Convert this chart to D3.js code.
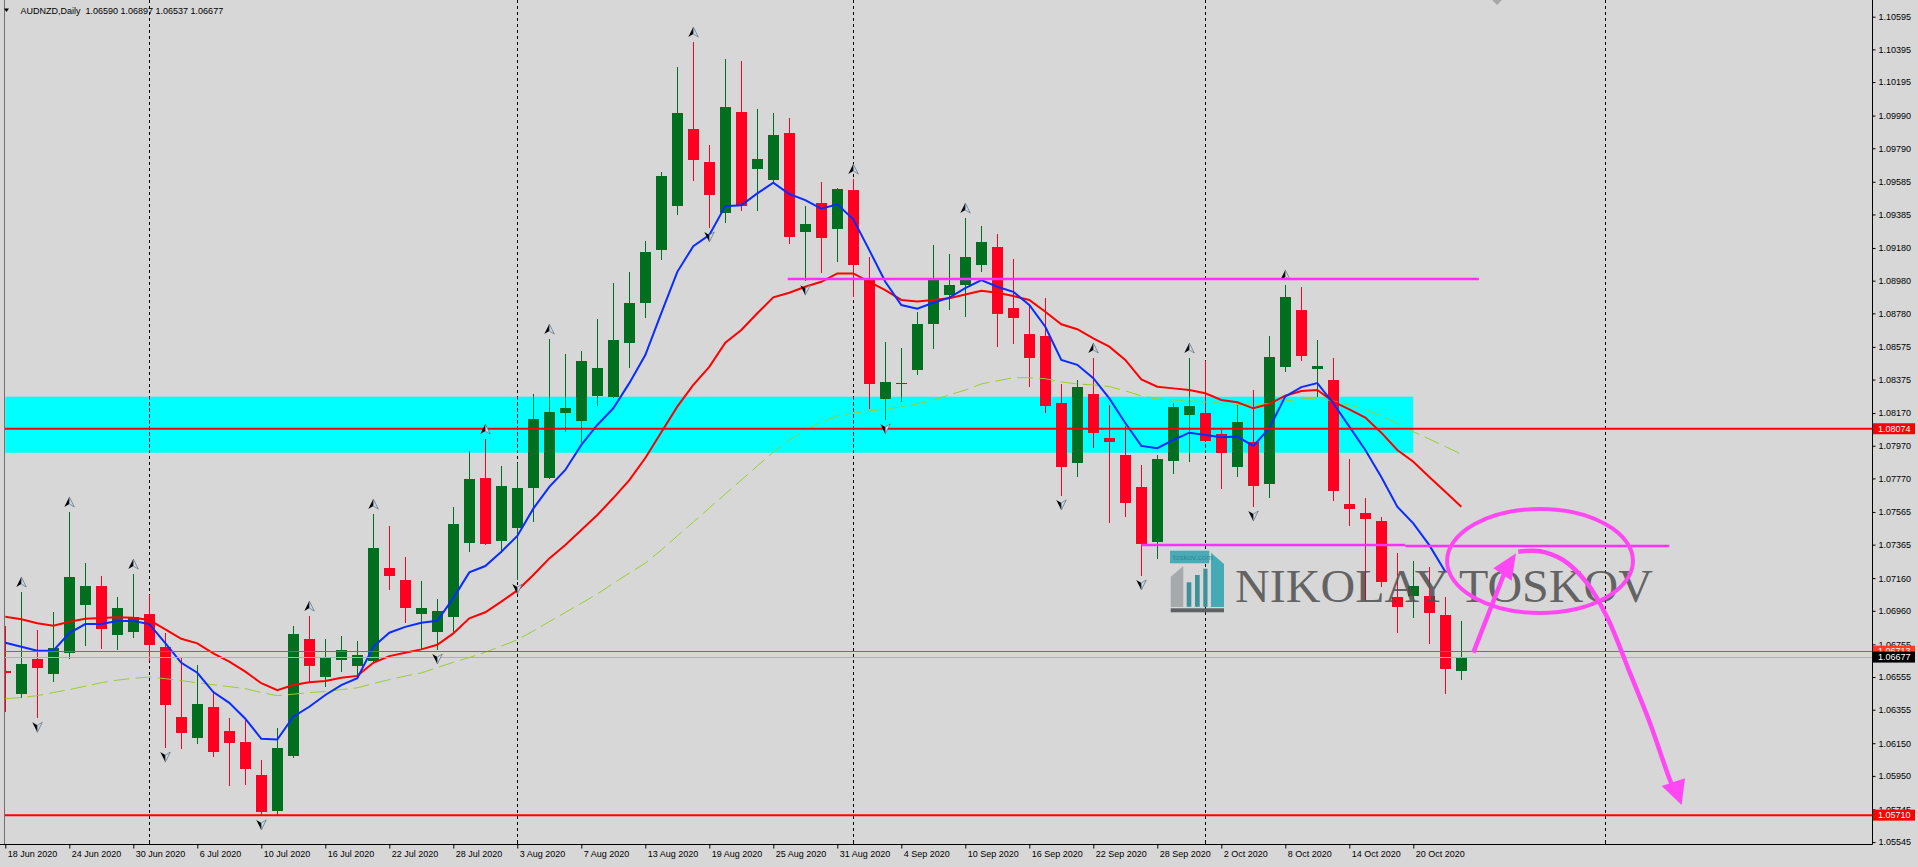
<!DOCTYPE html>
<html><head><meta charset="utf-8">
<script src="https://cdn.jsdelivr.net/npm/d3@7"></script>
<style>
html,body{margin:0;padding:0;background:#d7d7d7;overflow:hidden}
svg{display:block}
.sans{font-family:"Liberation Sans",Arial,sans-serif}
</style></head><body>
<svg id="c" width="1918" height="867"></svg>
<script>
// ---------------- DATA ----------------
const symbolTitle = "AUDNZD,Daily";
const dates = ["2020-06-18","2020-06-19","2020-06-22","2020-06-23","2020-06-24","2020-06-25","2020-06-26","2020-06-29","2020-06-30","2020-07-01","2020-07-02","2020-07-03","2020-07-06","2020-07-07","2020-07-08","2020-07-09","2020-07-10","2020-07-13","2020-07-14","2020-07-15","2020-07-16","2020-07-17","2020-07-20","2020-07-21","2020-07-22","2020-07-23","2020-07-24","2020-07-27","2020-07-28","2020-07-29","2020-07-30","2020-07-31","2020-08-03","2020-08-04","2020-08-05","2020-08-06","2020-08-07","2020-08-10","2020-08-11","2020-08-12","2020-08-13","2020-08-14","2020-08-17","2020-08-18","2020-08-19","2020-08-20","2020-08-21","2020-08-24","2020-08-25","2020-08-26","2020-08-27","2020-08-28","2020-08-31","2020-09-01","2020-09-02","2020-09-03","2020-09-04","2020-09-07","2020-09-08","2020-09-09","2020-09-10","2020-09-11","2020-09-14","2020-09-15","2020-09-16","2020-09-17","2020-09-18","2020-09-21","2020-09-22","2020-09-23","2020-09-24","2020-09-25","2020-09-28","2020-09-29","2020-09-30","2020-10-01","2020-10-02","2020-10-05","2020-10-06","2020-10-07","2020-10-08","2020-10-09","2020-10-12","2020-10-13","2020-10-14","2020-10-15","2020-10-16","2020-10-19","2020-10-20","2020-10-21","2020-10-22","2020-10-23"];
const opens = [1.06592,1.06453,1.06665,1.06575,1.06704,1.06995,1.07112,1.06812,1.06830,1.06940,1.06738,1.06310,1.06181,1.06371,1.06224,1.06157,1.05955,1.05735,1.06071,1.06787,1.06555,1.06659,1.06622,1.06653,1.07222,1.07148,1.06940,1.06830,1.06922,1.07375,1.07773,1.07387,1.07467,1.07712,1.07773,1.08170,1.08122,1.08275,1.08269,1.08599,1.08844,1.09167,1.09436,1.09908,1.09706,1.09393,1.10012,1.09663,1.09596,1.09883,1.09277,1.09455,1.09296,1.09535,1.08984,1.08256,1.08348,1.08434,1.08715,1.08893,1.08954,1.09075,1.09185,1.08813,1.08654,1.08642,1.08232,1.07865,1.08287,1.08017,1.07914,1.07718,1.07381,1.07877,1.08158,1.08170,1.08042,1.07840,1.07993,1.07736,1.08452,1.08801,1.08440,1.08373,1.07614,1.07559,1.07510,1.07044,1.07050,1.07050,1.06934,1.06590];
const highs = [1.06867,1.07075,1.06842,1.06953,1.07565,1.07252,1.07173,1.07044,1.07185,1.07057,1.06824,1.06671,1.06628,1.06463,1.06304,1.06292,1.06047,1.06243,1.06867,1.06928,1.06787,1.06806,1.06775,1.07552,1.07479,1.07289,1.07142,1.07032,1.07595,1.07938,1.08011,1.07846,1.07865,1.08287,1.08623,1.08532,1.08550,1.08746,1.08965,1.09033,1.09222,1.09645,1.10287,1.10440,1.09810,1.10336,1.10324,1.10030,1.10005,1.09975,1.09436,1.09583,1.09547,1.09602,1.09124,1.08605,1.08568,1.08789,1.09198,1.09143,1.09363,1.09314,1.09265,1.09112,1.08825,1.08874,1.08348,1.08373,1.08507,1.08219,1.08091,1.07852,1.07914,1.08232,1.08507,1.08489,1.08067,1.08219,1.08311,1.08642,1.08954,1.08941,1.08617,1.08507,1.07889,1.07650,1.07534,1.07314,1.07265,1.07228,1.07044,1.06897];
const lows = [1.06341,1.06425,1.06302,1.06526,1.06667,1.06746,1.06726,1.06720,1.06795,1.06653,1.06120,1.06114,1.06145,1.06065,1.05888,1.05894,1.05705,1.05712,1.06059,1.06524,1.06493,1.06586,1.06555,1.06646,1.07087,1.06885,1.06720,1.06720,1.06830,1.07320,1.07363,1.07314,1.07148,1.07503,1.07765,1.08054,1.07981,1.08213,1.08262,1.08446,1.08752,1.09106,1.09381,1.09590,1.09302,1.09332,1.09406,1.09406,1.09585,1.09204,1.08977,1.09026,1.09094,1.08880,1.08195,1.08128,1.08238,1.08403,1.08562,1.08801,1.08758,1.09033,1.08574,1.08593,1.08330,1.08170,1.07663,1.07779,1.07956,1.07497,1.07534,1.07173,1.07277,1.07797,1.07871,1.07990,1.07705,1.07779,1.07595,1.07650,1.08421,1.08489,1.08269,1.07632,1.07479,1.07020,1.07106,1.06824,1.06916,1.06757,1.06451,1.06537];
const closes = [1.06579,1.06634,1.06612,1.06732,1.07167,1.07112,1.06849,1.06977,1.06922,1.06751,1.06383,1.06212,1.06390,1.06096,1.06151,1.05992,1.05730,1.06120,1.06818,1.06622,1.06671,1.06720,1.06690,1.07344,1.07173,1.06977,1.06977,1.06959,1.07491,1.07767,1.07369,1.07724,1.07712,1.08134,1.08177,1.08201,1.08489,1.08446,1.08617,1.08844,1.09155,1.09620,1.10005,1.09718,1.09504,1.10042,1.09436,1.09724,1.09871,1.09247,1.09326,1.09241,1.09541,1.09075,1.08348,1.08360,1.08354,1.08715,1.08984,1.08954,1.09124,1.09216,1.08776,1.08752,1.08507,1.08213,1.07840,1.08330,1.08048,1.07993,1.07620,1.07369,1.07889,1.08207,1.08213,1.07999,1.07926,1.08115,1.07724,1.08513,1.08880,1.08519,1.08458,1.07693,1.07583,1.07522,1.07137,1.06983,1.07112,1.06946,1.06604,1.06677];
// moving averages (blue fast, red medium, green dashed slow)
const fastMA = [1.06765,1.06740,1.06716,1.06716,1.06824,1.06879,1.06879,1.06898,1.06898,1.06879,1.06763,1.06642,1.06581,1.06463,1.06397,1.06300,1.06177,1.06173,1.06312,1.06373,1.06445,1.06506,1.06548,1.06740,1.06826,1.06862,1.06887,1.06899,1.07038,1.07195,1.07234,1.07322,1.07418,1.07585,1.07718,1.07822,1.07975,1.08097,1.08199,1.08353,1.08525,1.08781,1.09034,1.09191,1.09259,1.09436,1.09441,1.09514,1.09579,1.09510,1.09473,1.09420,1.09447,1.09355,1.09167,1.08973,1.08831,1.08808,1.08845,1.08876,1.08935,1.08984,1.08943,1.08912,1.08831,1.08698,1.08495,1.08465,1.08383,1.08260,1.08109,1.07969,1.07955,1.08005,1.08050,1.08036,1.08022,1.08026,1.07969,1.08077,1.08272,1.08329,1.08353,1.08230,1.08087,1.07944,1.07779,1.07597,1.07495,1.07362,1.07199];
const midMA = [1.06924,1.06908,1.06884,1.06869,1.06893,1.06912,1.06916,1.06921,1.06918,1.06904,1.06847,1.06789,1.06761,1.06700,1.06649,1.06588,1.06517,1.06475,1.06506,1.06523,1.06531,1.06551,1.06562,1.06642,1.06683,1.06703,1.06724,1.06752,1.06822,1.06914,1.06951,1.07016,1.07085,1.07179,1.07281,1.07363,1.07454,1.07546,1.07650,1.07760,1.07895,1.08052,1.08209,1.08342,1.08453,1.08601,1.08678,1.08781,1.08878,1.08906,1.08943,1.08973,1.09024,1.09024,1.08973,1.08922,1.08862,1.08852,1.08862,1.08872,1.08895,1.08918,1.08906,1.08886,1.08862,1.08790,1.08713,1.08683,1.08627,1.08576,1.08495,1.08376,1.08331,1.08321,1.08311,1.08291,1.08250,1.08236,1.08199,1.08225,1.08276,1.08305,1.08311,1.08240,1.08193,1.08142,1.08050,1.07944,1.07872,1.07779,1.07689,1.07597];
const slowMA = [1.06422,1.06429,1.06441,1.06460,1.06478,1.06499,1.06520,1.06536,1.06547,1.06555,1.06545,1.06533,1.06520,1.06508,1.06496,1.06484,1.06460,1.06441,1.06450,1.06460,1.06466,1.06478,1.06489,1.06515,1.06539,1.06561,1.06580,1.06613,1.06645,1.06674,1.06707,1.06744,1.06782,1.06837,1.06894,1.06950,1.07006,1.07063,1.07128,1.07191,1.07252,1.07332,1.07418,1.07503,1.07589,1.07675,1.07760,1.07846,1.07931,1.08005,1.08066,1.08115,1.08152,1.08170,1.08183,1.08195,1.08207,1.08226,1.08250,1.08281,1.08311,1.08348,1.08367,1.08386,1.08386,1.08380,1.08361,1.08348,1.08342,1.08332,1.08306,1.08275,1.08256,1.08250,1.08246,1.08238,1.08229,1.08223,1.08219,1.08229,1.08244,1.08256,1.08262,1.08244,1.08219,1.08192,1.08152,1.08106,1.08056,1.08011,1.07965,1.07919];
const fractalUp = [1,4,8,19,23,30,34,43,53,60,68,74,80];
const fractalDown = [2,10,16,27,32,44,50,55,66,71,78];
const yTicks = [1.10595,1.10395,1.10195,1.09990,1.09790,1.09585,1.09385,1.09180,1.08980,1.08780,1.08575,1.08375,1.08170,1.07970,1.07770,1.07565,1.07365,1.07160,1.06960,1.06755,1.06555,1.06355,1.06150,1.05950,1.05745,1.05545];
const redLevels = [1.08074, 1.05710];
const askPrice = 1.06713, bidPrice = 1.06677;
// cyan zone (price range, bar range)
const zoneTop = 1.08270, zoneBottom = 1.07927, zoneFrom = 0, zoneTo = 88;
// magenta trend lines: [fromBar, toBar, price]
const magentaLines = [[48.9, 92.1, 1.08990],[71.0, 87.5, 1.07362],[87.5, 104.0, 1.07356]];
// hand-drawn annotations in (bar, price) units
const circleCenter = [95.92, 1.07265], circleRadiusBars = 5.81, circleRadiusPrice = 0.00318;
const arrowUpLine = [[91.75, 1.06704],[93.75, 1.07205]];
const arrowUpHead = [[94.42, 1.07312],[93.0, 1.07220],[94.15, 1.07144]];
const arrowDownLine = [[94.56, 1.07322],[95.92, 1.07325],[97.36, 1.07271],[98.86, 1.07130],[100.11, 1.06922],[101.54, 1.06580],[102.79, 1.06274],[104.04, 1.05925],[104.5, 1.05820]];
const arrowDownHead = [[104.77, 1.05772],[103.52, 1.05888],[104.98, 1.05935]];

// ---------------- SCALES ----------------
const svg = d3.select("#c");
const axisX = 1872, axisY = 844, leftX = 4;
const x = d3.scaleLinear().domain([0, dates.length - 1]).range([5.3, 5.3 + 16 * (dates.length - 1)]);
const y = d3.scaleLinear().domain([1.05545, 1.10595]).range([842.1, 16.7]);
const parse = d3.timeParse("%Y-%m-%d");
const fmt = d3.timeFormat("%-d %b %Y");
const dts = dates.map(parse);
const SANS = "'Liberation Sans',Arial,sans-serif";

svg.append("rect").attr("width",1918).attr("height",867).attr("fill","#d7d7d7");
svg.append("defs").append("clipPath").attr("id","plot")
  .append("rect").attr("x",leftX).attr("y",0).attr("width",axisX-leftX).attr("height",axisY);
const plot = svg.append("g").attr("clip-path","url(#plot)");

// cyan zone
plot.append("rect").attr("x",x(zoneFrom)).attr("width",x(zoneTo)-x(zoneFrom))
  .attr("y",y(zoneTop)).attr("height",y(zoneBottom)-y(zoneTop)).attr("fill","#00ffff");

// period separators (month starts + next month in future, calendar extrapolated)
const sepIdx = [];
for (let i = 1; i < dts.length; i++) if (dts[i].getMonth() !== dts[i-1].getMonth()) sepIdx.push(i);
const lastD = dts[dts.length-1];
const nextM = d3.timeMonth.ceil(d3.timeDay.offset(lastD,1));
sepIdx.push(dts.length - 1 + d3.timeDay.count(lastD, nextM));
sepIdx.forEach(i => {
  const sx = Math.round(x(i)) + 0.5;
  plot.append("line").attr("x1",sx).attr("x2",sx).attr("y1",0).attr("y2",axisY)
    .attr("stroke","#000").attr("stroke-width",1).attr("stroke-dasharray","3,3");
  if (i >= zoneFrom && i <= zoneTo)
    plot.append("line").attr("x1",sx).attr("x2",sx).attr("y1",y(zoneTop)).attr("y2",y(zoneBottom))
      .attr("stroke","#e00000").attr("stroke-width",1).attr("stroke-dasharray","3,3");
});

// candles
const bull = "#006f20", bear = "#ff0022";
const cg = plot.append("g").attr("shape-rendering","crispEdges");
dates.forEach((d,i) => {
  const cx = Math.round(x(i));
  const up = closes[i] >= opens[i];
  const col = up ? bull : bear;
  cg.append("line").attr("x1",cx+0.5).attr("x2",cx+0.5)
    .attr("y1",y(highs[i])).attr("y2",y(lows[i])).attr("stroke",col).attr("stroke-width",1);
  const top = y(Math.max(opens[i],closes[i])), bot = y(Math.min(opens[i],closes[i]));
  cg.append("rect").attr("x",cx-5).attr("width",11).attr("y",top)
    .attr("height",Math.max(1.5, bot-top)).attr("fill",col);
});

// moving averages
const line = d3.line().x((d,i)=>x(i)).y(d=>y(d));
plot.append("path").attr("d",line(slowMA)).attr("fill","none").attr("stroke","#9acd32")
  .attr("stroke-width",1).attr("stroke-dasharray","16,6");
plot.append("path").attr("d",line(midMA)).attr("fill","none").attr("stroke","#ff0000").attr("stroke-width",2);
plot.append("path").attr("d",line(fastMA)).attr("fill","none").attr("stroke","#0a2cff").attr("stroke-width",2);

// horizontal price lines
redLevels.forEach(p => plot.append("line").attr("x1",leftX).attr("x2",axisX).attr("y1",y(p)).attr("y2",y(p))
  .attr("stroke","#ff0000").attr("stroke-width",2));
plot.append("line").attr("x1",leftX).attr("x2",axisX).attr("y1",Math.round(y(askPrice))+0.5).attr("y2",Math.round(y(askPrice))+0.5)
  .attr("stroke","#ff3c1e").attr("stroke-width",1);
plot.append("line").attr("x1",leftX).attr("x2",axisX).attr("y1",Math.round(y(bidPrice))+0.5).attr("y2",Math.round(y(bidPrice))+0.5)
  .attr("stroke","#b0b0b0").attr("stroke-width",1);

// fractal arrows
function arrow(g, cx, cy, dir) {
  const s = dir; // 1 up, -1 down
  const a = g.append("g").attr("transform",`translate(${cx},${cy})`);
  a.append("path").attr("d",`M0,${-5*s} L-5,${5*s} L0,${2*s} Z`).attr("fill","#000");
  a.append("path").attr("d",`M0,${-5*s} L5,${5*s} L0,${2*s} Z`).attr("fill","#cfd8e0")
    .attr("stroke","#5c6c7c").attr("stroke-width",0.7);
}
const fg = plot.append("g");
fractalUp.forEach(i => arrow(fg, x(i), y(highs[i]) - 10, 1));
fractalDown.forEach(i => arrow(fg, x(i), y(lows[i]) + 9, -1));

// magenta lines
magentaLines.forEach(([a,b,p]) => plot.append("line").attr("x1",x(a)).attr("x2",x(b))
  .attr("y1",y(p)).attr("y2",y(p)).attr("stroke","#ff30ff").attr("stroke-width",2.5));

// logo watermark
const lg = plot.append("g");
lg.append("path").attr("d","M1170.7,576.7 L1183.3,566 L1183.3,607 L1170.7,607 Z").attr("fill","#a7aaad");
lg.append("rect").attr("x",1186.7).attr("y",582.3).attr("width",4.6).attr("height",24.5).attr("fill","#3d9198");
lg.append("rect").attr("x",1195).attr("y",575).attr("width",4.7).attr("height",31.8).attr("fill","#3d9198");
lg.append("rect").attr("x",1203.3).attr("y",568.7).attr("width",4.2).attr("height",38.1).attr("fill","#3d9198");
lg.append("path").attr("d","M1211,552.7 L1224,564 L1224,607 L1211,607 Z").attr("fill","#45a9b6");
lg.append("rect").attr("x",1170).attr("y",550.7).attr("width",39.3).attr("height",12.6).attr("fill","#4aabb7");
lg.append("text").attr("x",1173).attr("y",560).style("font-family",SANS).style("font-size","8px")
  .attr("fill","#2e8c98").text("toskov.com");
lg.append("rect").attr("x",1170.7).attr("y",608.3).attr("width",53.3).attr("height",4).attr("fill","#5e6062");
lg.append("text").attr("x",1235).attr("y",601.7)
  .style("font-family","'Liberation Serif','DejaVu Serif',serif").style("font-size","46px")
  .attr("fill","#4e4e4e").attr("fill-opacity",0.85)
  .attr("textLength",418).attr("lengthAdjust","spacingAndGlyphs").text("NIKOLAY TOSKOV");

// hand-drawn annotations
const pink = "#ff48f4";
plot.append("ellipse").attr("cx",x(circleCenter[0])).attr("cy",y(circleCenter[1]))
  .attr("rx",x(circleCenter[0]+circleRadiusBars)-x(circleCenter[0]))
  .attr("ry",y(circleCenter[1]-circleRadiusPrice)-y(circleCenter[1]))
  .attr("fill","none").attr("stroke",pink).attr("stroke-width",4);
const pl = d3.line().x(d=>x(d[0])).y(d=>y(d[1]));
plot.append("path").attr("d",pl(arrowUpLine)).attr("stroke",pink).attr("stroke-width",4.5).attr("fill","none");
plot.append("path").attr("d",pl(arrowUpHead)+"Z").attr("fill",pink);
plot.append("path").attr("d",d3.line().x(d=>x(d[0])).y(d=>y(d[1])).curve(d3.curveCatmullRom)(arrowDownLine))
  .attr("stroke",pink).attr("stroke-width",4.5).attr("fill","none");
plot.append("path").attr("d",pl(arrowDownHead)+"Z").attr("fill",pink);

// ---------------- FRAME & AXES ----------------
svg.append("line").attr("x1",leftX+0.5).attr("x2",leftX+0.5).attr("y1",0).attr("y2",axisY).attr("stroke","#707070");
svg.append("line").attr("x1",axisX+0.5).attr("x2",axisX+0.5).attr("y1",0).attr("y2",axisY+0.5).attr("stroke","#000");
svg.append("line").attr("x1",0).attr("x2",axisX+0.5).attr("y1",axisY+0.5).attr("y2",axisY+0.5).attr("stroke","#000");

const yAxis = d3.axisRight(y).tickValues(yTicks).tickSize(3).tickPadding(3).tickFormat(d3.format(".5f"));
const ya = svg.append("g").attr("transform",`translate(${axisX+0.5},0)`).call(yAxis);
ya.select(".domain").remove();
ya.attr("font-size",null).attr("font-family",null);
ya.selectAll("text").style("font-size","9px").style("font-family",SANS).attr("fill","#000");
ya.selectAll("line").attr("stroke","#000");

const labelIdx = d3.range(0, dates.length, 4);
const xAxis = d3.axisBottom(x).tickValues(labelIdx).tickSize(4).tickFormat(i => fmt(dts[i]));
const xa = svg.append("g").attr("transform",`translate(0,${axisY+0.5})`).call(xAxis);
xa.select(".domain").remove();
xa.attr("font-size",null).attr("font-family",null);
xa.selectAll("text").style("font-size","9px").style("font-family",SANS)
  .attr("fill","#000").attr("text-anchor","start").attr("x",2).attr("y",12).attr("dy","0");
xa.selectAll("line").attr("stroke","#000");
// separator marks on the time axis
sepIdx.forEach(i => svg.append("line").attr("x1",Math.round(x(i))+0.5).attr("x2",Math.round(x(i))+0.5)
  .attr("y1",axisY-4).attr("y2",axisY).attr("stroke","#000"));

// price boxes on axis
function priceBox(p, bg, fg) {
  const py = y(p);
  svg.append("rect").attr("x",axisX+1).attr("y",py-5.5).attr("width",42).attr("height",11).attr("fill",bg);
  svg.append("text").attr("x",axisX+6).attr("y",py+3.3).style("font-size","9px").style("font-family",SANS)
    .attr("fill",fg).text(p.toFixed(5));
}
redLevels.forEach(p => priceBox(p,"#ff0000","#fff"));
priceBox(askPrice,"#ff3c1e","#fff");
priceBox(bidPrice,"#000","#fff");

// title
svg.append("path").attr("d","M4,8.5 L9,8.5 L6.5,12 Z").attr("fill","#000");
svg.append("text").attr("x",20.5).attr("y",13.5).style("font-size","9px").style("font-family",SANS).attr("fill","#000")
  .style("white-space","pre")
  .text(`${symbolTitle}  ${opens[opens.length-1].toFixed(5)} ${highs[highs.length-1].toFixed(5)} ${lows[lows.length-1].toFixed(5)} ${closes[closes.length-1].toFixed(5)}`);
// chart shift marker
svg.append("path").attr("d","M1492,0 L1502,0 L1497,5 Z").attr("fill","#a8a8a8");
</script>
</body></html>
